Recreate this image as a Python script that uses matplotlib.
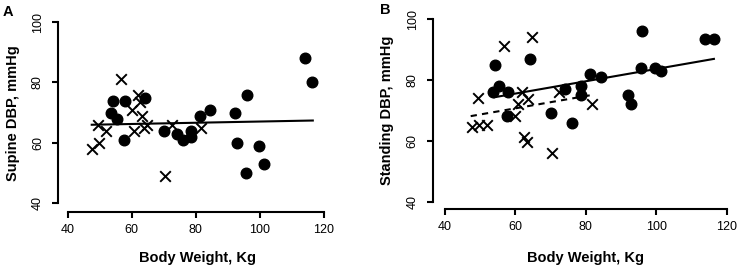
import numpy as np
import matplotlib
matplotlib.use('Agg')
import matplotlib.pyplot as plt

plt.rcParams['font.family'] = ['Liberation Sans', 'DejaVu Sans']

# body weight (kg) of the two groups, same subjects in both panels
wt_circ = [53.6, 54.2, 55.3, 57.5, 58.0, 64.2, 70.2, 74.0, 76.0, 78.5, 78.5,
           81.2, 84.4, 92.1, 92.9, 96.1, 95.7, 99.8, 101.3, 114.0, 116.3]
wt_cross = [47.6, 49.4, 49.8, 52.0, 56.7, 60.0, 60.8, 62.0, 62.5, 63.2,
            63.7, 64.8, 70.3, 72.5, 81.7]

# supine DBP (panel A)
sup_circ = [70, 74, 68, 61, 74, 75, 64, 63, 61, 64, 62,
            69, 71, 70, 60, 76, 50, 59, 53, 88, 80]
sup_cross = [58, 66, 60, 64, 81, 71, 64, 76, 73.5, 69,
             65, 66, 49, 66, 65]

# standing DBP (panel B)
std_circ = [76, 85, 78, 68, 76, 86.8, 69, 77, 66, 78, 75,
            82, 81, 75, 72, 96, 84, 84, 83, 93.3, 93.3]
std_cross = [64.4, 73.9, 65.2, 65.2, 91, 68, 72, 76, 61.3, 59.7,
             73.6, 94, 56, 76, 72]

# regression lines (end points)
fitA_x = [47.5, 116.5]
fitA_y = [66.0, 67.4]
fitB_circ_x = [54.0, 116.4]
fitB_circ_y = [74.3, 86.9]
fitB_cross_x = [47.3, 81.5]
fitB_cross_y = [68.1, 75.0]

xticks = [40, 60, 80, 100, 120]
yticks = [40, 60, 80, 100]

W, H = 740, 267
fig = plt.figure(figsize=(W / 100, H / 100), dpi=100)


def make_ax(left, right, top, bottom, xlim, ylim):
    ax = fig.add_axes([left / W, (H - bottom) / H, (right - left) / W, (bottom - top) / H])
    ax.set_xlim(*xlim)
    ax.set_ylim(*ylim)
    for s in ['top', 'right']:
        ax.spines[s].set_visible(False)
    for s in ['left', 'bottom']:
        ax.spines[s].set_linewidth(1.5)
    ax.spines['left'].set_bounds(40, 100)
    ax.spines['bottom'].set_bounds(40, 120)
    ax.set_xticks(xticks)
    ax.set_yticks(yticks)
    ax.tick_params(direction='out', length=4.5, width=1.5, labelsize=9)
    ax.tick_params(axis='x', pad=4.5)
    ax.tick_params(axis='y', pad=5.5, labelrotation=90)
    for lab in ax.get_yticklabels():
        lab.set_va('center')
    return ax


def draw(ax, ycirc, ycross):
    ax.scatter(wt_circ, ycirc, s=58, marker='o', color='black', clip_on=False, zorder=3)
    ax.scatter(wt_cross, ycross, s=58, marker='x', color='black', linewidths=1.4,
               clip_on=False, zorder=3)


# panel A
axA = make_ax(57.8, 332, 15, 211.5, (36.91, 122.49), (37.29, 102.32))
draw(axA, sup_circ, sup_cross)
axA.plot(fitA_x, fitA_y, color='black', lw=1.5)
axA.set_xlabel('Body Weight, Kg', fontsize=10.5, fontweight='bold')
axA.set_ylabel('Supine DBP, mmHg', fontsize=10.5, fontweight='bold')
axA.xaxis.set_label_coords(0.508, -0.201)
axA.yaxis.set_label_coords(-0.138, 0.503)

# panel B
axB = make_ax(432.5, 735, 12, 209, (36.45, 122.39), (37.6, 102.3))
draw(axB, std_circ, std_cross)
axB.plot(fitB_circ_x, fitB_circ_y, color='black', lw=1.5)
axB.plot(fitB_cross_x, fitB_cross_y, color='black', lw=1.5, ls=(0, (3, 2.5)))
axB.set_xlabel('Body Weight, Kg', fontsize=10.5, fontweight='bold')
axB.set_ylabel('Standing DBP, mmHg', fontsize=10.5, fontweight='bold')
axB.xaxis.set_label_coords(0.507, -0.213)
axB.yaxis.set_label_coords(-0.127, 0.5)

fig.text(3 / W, (H - 15.5) / H, 'A', fontsize=10.5, fontweight='bold', va='baseline')
fig.text(380 / W, (H - 13.5) / H, 'B', fontsize=10.5, fontweight='bold', va='baseline')

fig.savefig('out.png', dpi=100)
